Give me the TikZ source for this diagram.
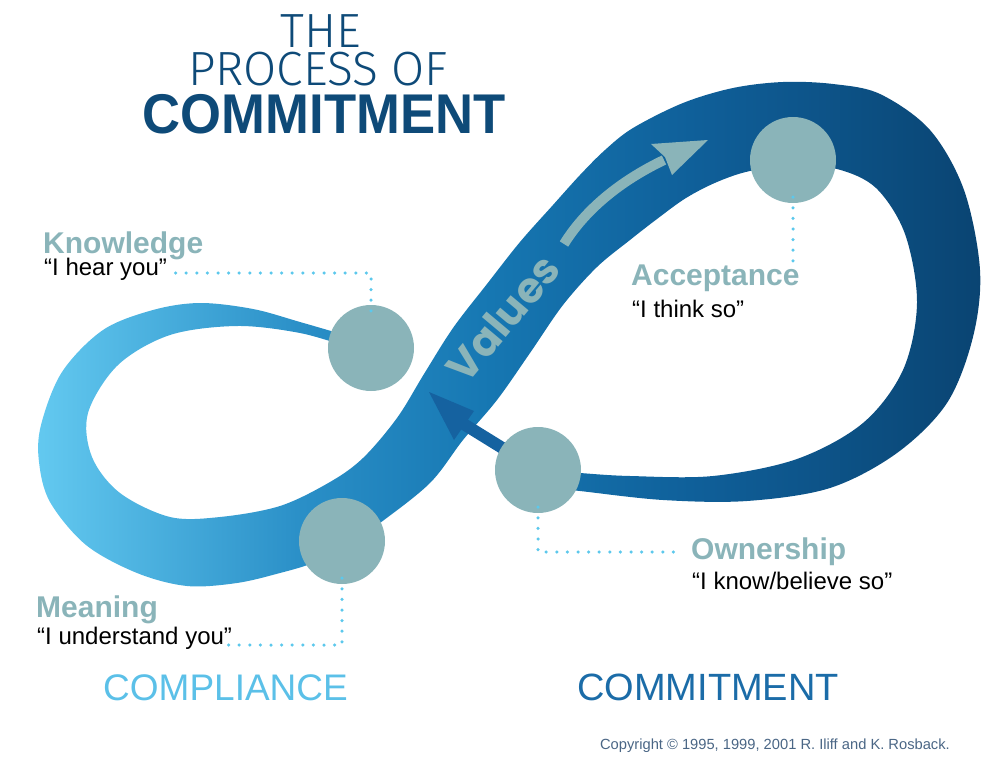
\documentclass[tikz,border=0pt]{standalone}
\usepackage{fontspec}
\usepackage{graphicx}
\setmainfont{Liberation Sans}
\newfontfamily\popfont{Poppins}
\newfontfamily\lightfont{Fira Sans Light}
\definecolor{rc1}{HTML}{63C9F0}
\definecolor{rc2}{HTML}{2A8FC7}
\definecolor{rc3}{HTML}{1677B2}
\definecolor{rc4}{HTML}{0F5F99}
\definecolor{rc5}{HTML}{0A4472}
\definecolor{teal}{HTML}{8AB4B9}
\definecolor{dotcyan}{HTML}{5CC8EC}
\definecolor{titlenavy}{HTML}{0E4A78}
\definecolor{compl}{HTML}{5BC0E8}
\definecolor{commit}{HTML}{1B6CA8}
\definecolor{copyc}{HTML}{4A6685}
\definecolor{ownarrow}{HTML}{1562A0}
\pgfdeclarehorizontalshading{ribbonshade}{100bp}{color(0bp)=(rc1); color(25bp)=(rc1); color(39bp)=(rc2); color(49bp)=(rc3); color(60bp)=(rc4); color(75bp)=(rc5); color(100bp)=(rc5)}
\tikzset{
  stage/.style={circle, fill=teal, minimum size=86pt, inner sep=0pt},
  dotline/.style={draw=dotcyan, line width=3.5pt, line cap=round, dash pattern=on 0pt off 10.6pt},
  headtxt/.style={anchor=base west, inner sep=0pt, text=teal, font=\bfseries\fontsize{30}{36}\selectfont},
  quotetxt/.style={anchor=base west, inner sep=0pt, text=black, font=\fontsize{24}{29}\selectfont},
  titletxt/.style={anchor=base, inner sep=0pt, text=titlenavy},
}
\begin{document}
\begin{tikzpicture}[x=1pt,y=-1pt]
\useasboundingbox (0,0) rectangle (994,768);
% ribbon
\shade[shading=ribbonshade]
  plot[smooth, tension=0.55] coordinates {(348,336) (300,322) (253,309) (200,303) (153,310) (103,330) (62,372) (41,425) (39,462) (50,502) (86,545) (137,573) (187,586) (237,583) (280,573) (313,563) (345,547) (380,523) (430,483) (463,440) (497,400) (530,353) (563,305) (597,267) (630,240) (657,219) (686,198) (717,182) (750,171) (793,166) (837,169) (876,188) (905,234) (917,303) (903,370) (863,423) (797,459) (713,476) (630,476) (580,473) (545,470)}
  -- plot[smooth, tension=0.55] coordinates {(545,487) (580,491) (663,500) (747,501) (830,488) (897,453) (947,403) (973,337) (980,270) (964,190) (930,130) (880,94) (833,84) (783,82) (733,88) (683,103) (633,128) (605,150) (580,175) (553,205) (520,242) (487,284) (453,328) (424,374) (397,418) (363,458) (330,482) (280,506) (220,517) (170,517) (120,493) (92,457) (88,413) (118,365) (170,335) (237,326) (300,333) (348,347)}
  -- cycle;
% Values arrow
\draw[teal, line width=10pt] (564,244) .. controls (585,210) and (620,181) .. (664,160);
\fill[teal] (708,140) -- (651,144) -- (665,157) -- (672,175) -- cycle;
\node[rotate=50, text=teal, inner sep=0pt, font=\popfont\bfseries\fontsize{42}{48}\selectfont] (values) at (503,318) {Values};
% ownership arrow (drawn under its circle)
\coordinate (owncenter) at (538,470);
\coordinate (ownhead) at (462,423);
\draw[ownarrow, line width=12pt] (owncenter) -- (ownhead);
\fill[ownarrow] (429,392) -- (454,440) -- (474,411) -- cycle;
% stage circles
\node[stage] (know) at (371,348) {};
\node[stage] (mean) at (342,541) {};
\node[stage] (acc) at (793,160) {};
\node[stage] (own) at (owncenter) {};
% labels
\node[headtxt] (knowh) at (43,253) {Knowledge};
\node[quotetxt] (knowq) at (44,275) {“I hear you”};
\node[headtxt] (meanh) at (36,617) {Meaning};
\node[quotetxt] (meanq) at (37,644) {“I understand you”};
\node[headtxt] (acch) at (631,285) {Acceptance};
\node[quotetxt] (accq) at (632,317) {“I think so”};
\node[headtxt] (ownh) at (691,559) {Ownership};
\node[quotetxt] (ownq) at (692,589) {“I know/believe so”};
% dotted leaders
\coordinate (k1) at (166,273);
\coordinate (m1) at (220,645);
\coordinate (a1) at (793,262);
\coordinate (o1) at (678,552);
\draw[dotline] ([yshift=-6pt]know.north) |- (k1);
\draw[dotline] ([yshift=6pt]mean.south) |- (m1);
\draw[dotline] ([yshift=6pt]acc.south) -- (a1);
\draw[dotline] ([yshift=6pt]own.south) |- (o1);
% title
\node[titletxt, font=\lightfont\fontsize{48}{52}\selectfont] (t1) at (321,48) {THE};
\node[titletxt, font=\lightfont\fontsize{48}{52}\selectfont] (t2) at (318,85) {PROCESS OF};
\node[titletxt, font=\bfseries\fontsize{56}{60}\selectfont] (t3) at (324,133) {\scalebox{0.94}[1]{COMMITMENT}};
% bottom words
\node[anchor=base west, inner sep=0pt, text=compl, font=\fontsize{37}{42}\selectfont] (compliance) at (103,700) {COMPLIANCE};
\node[anchor=base west, inner sep=0pt, text=commit, font=\fontsize{38}{42}\selectfont] (commitment) at (577,700) {COMMITMENT};
\node[anchor=base east, inner sep=0pt, text=copyc, font=\fontsize{14.7}{18}\selectfont] (copy) at (950,749) {Copyright © 1995, 1999, 2001 R. Iliff and K. Rosback.};
\end{tikzpicture}
\end{document}
